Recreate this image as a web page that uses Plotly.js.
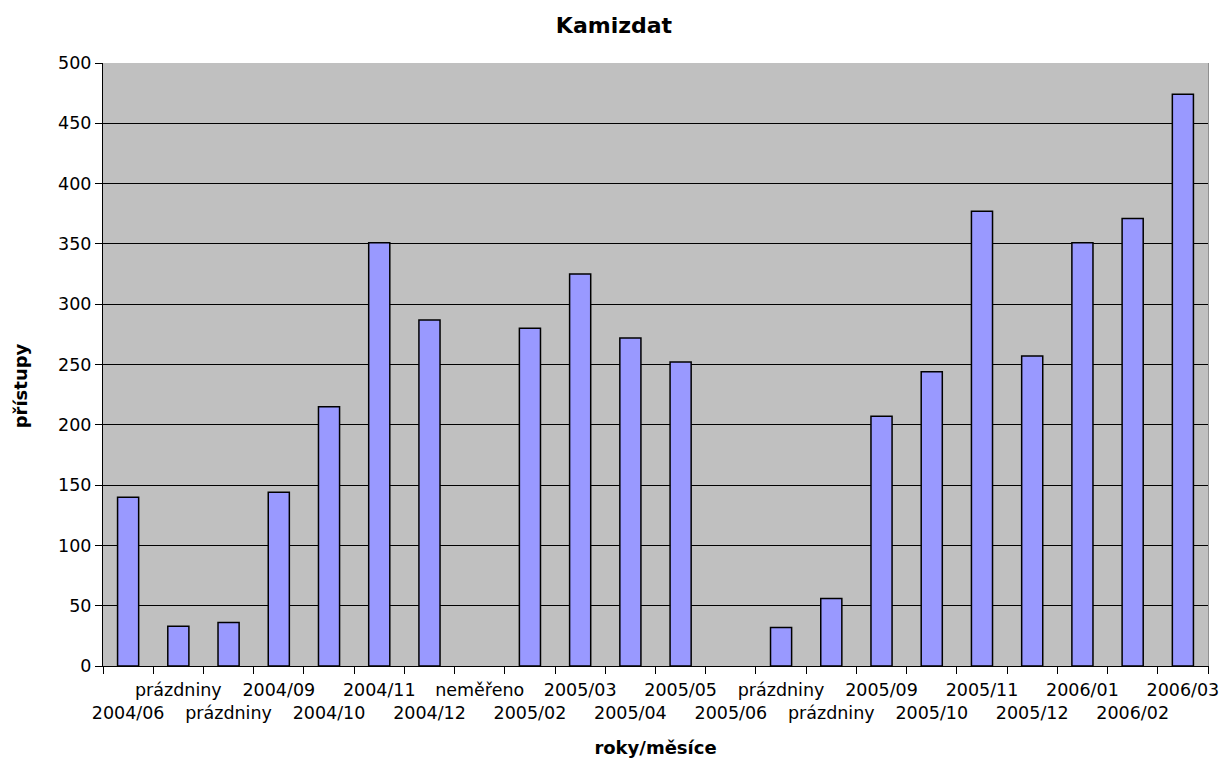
<!DOCTYPE html>
<html><head><meta charset="utf-8">
<script src="https://cdn.plot.ly/plotly-3.0.1.min.js"></script>
<style>body{margin:0;background:#fff}#chart{width:1228px;height:762px}</style>
</head><body><div id="chart"></div>
<script>
const labels = ["2004/06","prázdniny","prázdniny","2004/09","2004/10","2004/11","2004/12","neměřeno","2005/02","2005/03","2005/04","2005/05","2005/06","prázdniny","prázdniny","2005/09","2005/10","2005/11","2005/12","2006/01","2006/02","2006/03"];
const values = [140,33,36,144,215,351,287,null,280,325,272,252,null,32,56,207,244,377,257,351,371,474];
const yTicks = [0,50,100,150,200,250,300,350,400,450,500];

const idx = labels.map((l,i)=>String(i));
const tickText = labels.map((l,i)=> i%2===0 ? "<br>"+l : l);
const F = "DejaVu Sans, sans-serif";

Plotly.newPlot("chart", [{
  type:"bar", x: idx, y: values,
  marker:{color:"#9999ff", line:{color:"#000", width:1.5}},
  hoverinfo:"y"
},{
  type:"scatter", x:[idx[0]], y:[0], yaxis:"y2", mode:"none", showlegend:false, hoverinfo:"skip"
}], {
  width:1228, height:762,
  margin:{l:103, r:20, t:63, b:96},
  paper_bgcolor:"#fff", plot_bgcolor:"#c0c0c0",
  showlegend:false,
  bargap:0.58,
  font:{family:F, size:17.5, color:"#000"},
  title:{text:"<b>Kamizdat</b>", font:{family:F, size:22, color:"#000"}, x:0.5, xanchor:"center", y:0.967, yanchor:"middle"},
  xaxis:{type:"category", tickmode:"array", tickvals: idx, ticktext: tickText, tickangle:0,
    tickson:"boundaries", ticks:"outside", ticklen:7, tickcolor:"#000", tickwidth:1,
    showgrid:false, showline:true, linecolor:"#000", linewidth:1,
    tickfont:{family:F, size:17.5, color:"#000"}, ticklabelstandoff:8,
    title:{text:"<b>roky/měsíce</b>", font:{family:F, size:18, color:"#000"}, standoff:19},
    range:[-0.5, 21.5], fixedrange:true},
  yaxis:{range:[0,500], tickmode:"array", tickvals:yTicks, ticks:"outside", ticklen:7, tickcolor:"#000",
    showgrid:true, gridcolor:"#000", gridwidth:1, zeroline:true, zerolinecolor:"#000",
    showline:true, linecolor:"#000", linewidth:1,
    tickfont:{family:F, size:17.5, color:"#000"}},
  yaxis2:{overlaying:"y", side:"right", range:[0,500], showline:true, linecolor:"#909090", linewidth:1,
    showticklabels:false, ticks:"", showgrid:false, zeroline:false},
  annotations:[{text:"<b>přístupy</b>", textangle:-90, xref:"paper", yref:"paper",
    x:-0.075, y:0.464, xanchor:"center", yanchor:"middle", showarrow:false,
    font:{family:F, size:18, color:"#000"}}]
}, {displayModeBar:false, staticPlot:true});
</script></body></html>
